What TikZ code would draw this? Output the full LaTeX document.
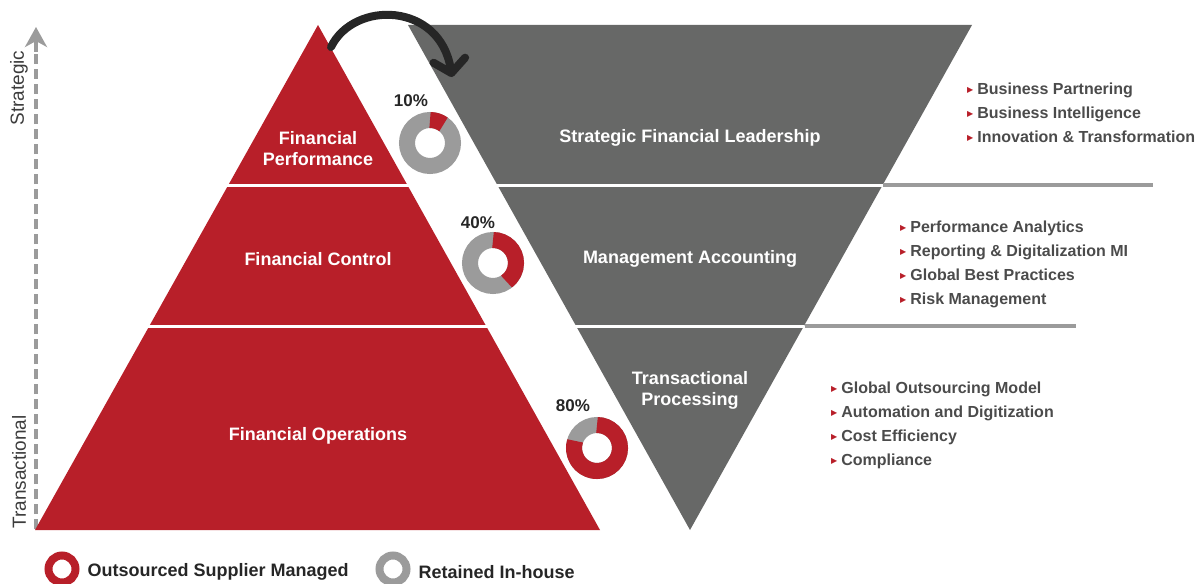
\documentclass[tikz,border=0pt]{standalone}
\usepackage{fontspec}
\setmainfont{Liberation Sans}
\newfontfamily\symfont{DejaVu Sans}
\usetikzlibrary{arrows.meta}

\definecolor{finred}{HTML}{B81F29}
\definecolor{fingrey}{HTML}{676867}
\definecolor{ringgrey}{HTML}{9B9B9B}
\definecolor{bulgrey}{HTML}{4B4B4B}
\definecolor{inkblack}{HTML}{262626}

\newcommand{\bul}{\raisebox{2pt}{\symfont\color{finred}\fontsize{8}{8}\selectfont ▶}\hspace{4pt}}

\begin{document}
\begin{tikzpicture}[x=1pt,y=-1pt,
  layertext/.style={text=white,font=\bfseries\fontsize{18}{21}\selectfont,align=center},
  pcttext/.style={text=inkblack,font=\bfseries\fontsize{17}{20}\selectfont},
  bullist/.style={anchor=north west,text=bulgrey,font=\bfseries\fontsize{16}{24}\selectfont,align=left,inner sep=0pt},
  axistext/.style={rotate=90,text=inkblack!90,font=\fontsize{19}{22}\selectfont},
  legendtext/.style={anchor=west,text=inkblack,font=\bfseries\fontsize{18}{20}\selectfont},
  ring/.style={line width=16pt},
  sepline/.style={line width=3pt,white},
  ruleline/.style={line width=4.5pt,ringgrey}]
\useasboundingbox (0,0) rectangle (1198,583);

% axis
\coordinate (axisbot) at (36,529);
\coordinate (axismid) at (36,52);
\coordinate (axistop) at (36,27);
\draw[ringgrey,line width=3.5pt,dash pattern=on 10pt off 5pt] (axisbot) -- (axismid);
\draw[ringgrey,line width=3.5pt,-{Stealth[length=20pt,width=22pt,inset=6pt]}] (axismid) -- (axistop);
\node[axistext] (strat) at (19,88) {Strategic};
\node[axistext] (trans) at (19,472) {Transactional};

% red pyramid
\fill[finred] (318,25) -- (600,530) -- (35,530) -- cycle;
\draw[sepline] (200,185) -- (440,185);
\draw[sepline] (120,326) -- (520,326);
\node[layertext] (perf) at (318,149) {Financial\\Performance};
\node[layertext] (ctrl) at (318,259) {Financial Control};
\node[layertext] (oper) at (318,436) {Financial Operations};

% grey inverted pyramid
\fill[fingrey] (408,25) -- (972,25) -- (690,530) -- cycle;
\draw[sepline] (470,185) -- (883,185);
\draw[sepline] (550,326) -- (804,326);
\draw[ruleline] (883,185) -- (1153,185);
\draw[ruleline] (805,326) -- (1076,326);
\node[layertext] (lead) at (690,138) {Strategic Financial Leadership};
\node[layertext] (mgmt) at (690,259) {Management Accounting};
\node[layertext] (proc) at (690,390) {Transactional\\Processing};

% curved arrow
\coordinate (arcstart) at (331,47);
\coordinate (arcend) at (452,77);
\draw[inkblack,line width=8pt,line cap=round,-{Straight Barb[length=13pt,width=32pt,round]}]
  (arcstart) .. controls (354,0) and (440,2) .. (arcend);

% donuts
\coordinate (d1) at (430,143);
\draw[ring,ringgrey] (d1) circle (23);
\draw[ring,finred] (d1) ++(-90:23) arc (-90:-54:23);
\node[pcttext] (p1) at (411,101) {10\%};

\coordinate (d2) at (493,263);
\draw[ring,ringgrey] (d2) circle (23);
\draw[ring,finred] (d2) ++(-90:23) arc (-90:54:23);
\node[pcttext] (p2) at (478,223) {40\%};

\coordinate (d3) at (597,448);
\draw[ring,ringgrey] (d3) circle (23);
\draw[ring,finred] (d3) ++(-90:23) arc (-90:198:23);
\node[pcttext] (p3) at (573,406) {80\%};

% bullet lists
\node[bullist] (list1) at (967,83) {\bul Business Partnering\\\bul Business Intelligence\\\bul Innovation \& Transformation};
\node[bullist] (list2) at (900,221) {\bul Performance Analytics\\\bul Reporting \& Digitalization MI\\\bul Global Best Practices\\\bul Risk Management};
\node[bullist] (list3) at (831,382) {\bul Global Outsourcing Model\\\bul Automation and Digitization\\\bul Cost Efficiency\\\bul Compliance};

% legend
\coordinate (l1) at (62,569);
\draw[finred,line width=8pt] (l1) circle (13.5);
\node[legendtext] (lt1) at (84,572) {Outsourced Supplier Managed};
\coordinate (l2) at (393,569);
\draw[ringgrey,line width=8pt] (l2) circle (13.5);
\node[legendtext] (lt2) at (415,572) {Retained In-house};
\end{tikzpicture}
\end{document}
